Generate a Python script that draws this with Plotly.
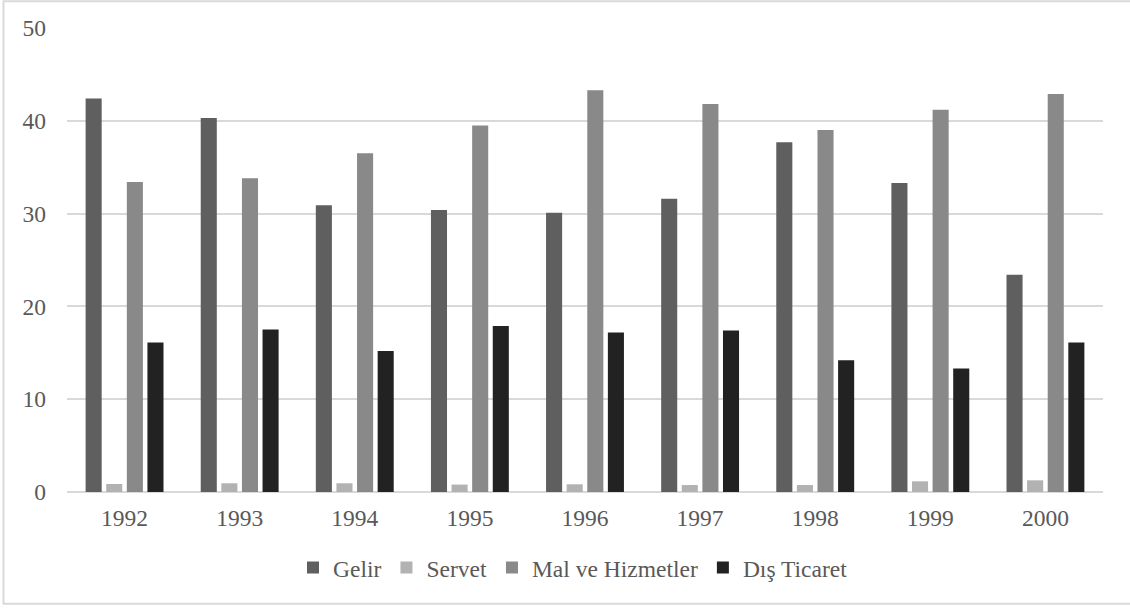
import plotly.graph_objects as go

# Yıllar ve vergi gelirlerinin türlere göre dağılımı (%)
years = ["1992", "1993", "1994", "1995", "1996", "1997", "1998", "1999", "2000"]
gelir = [42.4, 40.3, 30.9, 30.4, 30.1, 31.6, 37.7, 33.3, 23.4]
servet = [0.86, 0.94, 0.94, 0.80, 0.83, 0.75, 0.75, 1.15, 1.26]
mal_hizmet = [33.4, 33.8, 36.5, 39.5, 43.3, 41.8, 39.0, 41.2, 42.9]
dis_ticaret = [16.1, 17.5, 15.2, 17.9, 17.2, 17.4, 14.2, 13.3, 16.1]

series = [
    ("Gelir", gelir, "#5f5f5f"),
    ("Servet", servet, "#b2b2b2"),
    ("Mal ve Hizmetler", mal_hizmet, "#898989"),
    ("Dış Ticaret", dis_ticaret, "#222222"),
]

FONT = "Liberation Serif"
TEXT = "#595959"
GRID = "#d9d9d9"
SIZE = 23.5

fig = go.Figure()
for name, vals, color in series:
    fig.add_trace(go.Bar(
        x=years, y=vals, name=name,
        marker=dict(color=color, line=dict(width=0)),
    ))

W, H = 1130, 608
ml, mr, mt, mb = 67, 27, 27.5, 116.3
pw, ph = W - ml - mr, H - mt - mb

def px_x(p):
    return (p - ml) / pw

def px_y(p):
    return (H - mb - p) / ph

fig.update_layout(
    width=W, height=H,
    margin=dict(l=ml, r=mr, t=mt, b=mb, pad=0),
    paper_bgcolor="white", plot_bgcolor="white",
    barmode="group", bargap=0.284, bargroupgap=0.22,
    font=dict(family=FONT, size=SIZE, color=TEXT),
    showlegend=True,
    legend=dict(
        orientation="h", x=px_x(573), xanchor="center", y=px_y(567.5), yanchor="middle",
        font=dict(family=FONT, size=SIZE, color=TEXT),
        itemwidth=30, itemclick=False, tracegroupgap=0,
    ),
    xaxis=dict(
        showgrid=False, showline=False, ticks="",
        tickfont=dict(family=FONT, size=SIZE, color=TEXT),
        ticklabelstandoff=9,
    ),
    yaxis=dict(
        range=[0, 50], dtick=10, showgrid=True, gridcolor=GRID, gridwidth=2,
        zeroline=True, zerolinecolor=GRID, zerolinewidth=2,
        showline=False, ticks="",
        tickfont=dict(family=FONT, size=SIZE, color=TEXT),
        ticklabelstandoff=20,
    ),
    shapes=[dict(
        type="rect", xref="paper", yref="paper", layer="below",
        x0=px_x(3.5), x1=px_x(1140), y0=px_y(603.5), y1=px_y(0.8),
        line=dict(color=GRID, width=2), fillcolor="rgba(0,0,0,0)",
    )],
)

fig.write_html("out.html")
